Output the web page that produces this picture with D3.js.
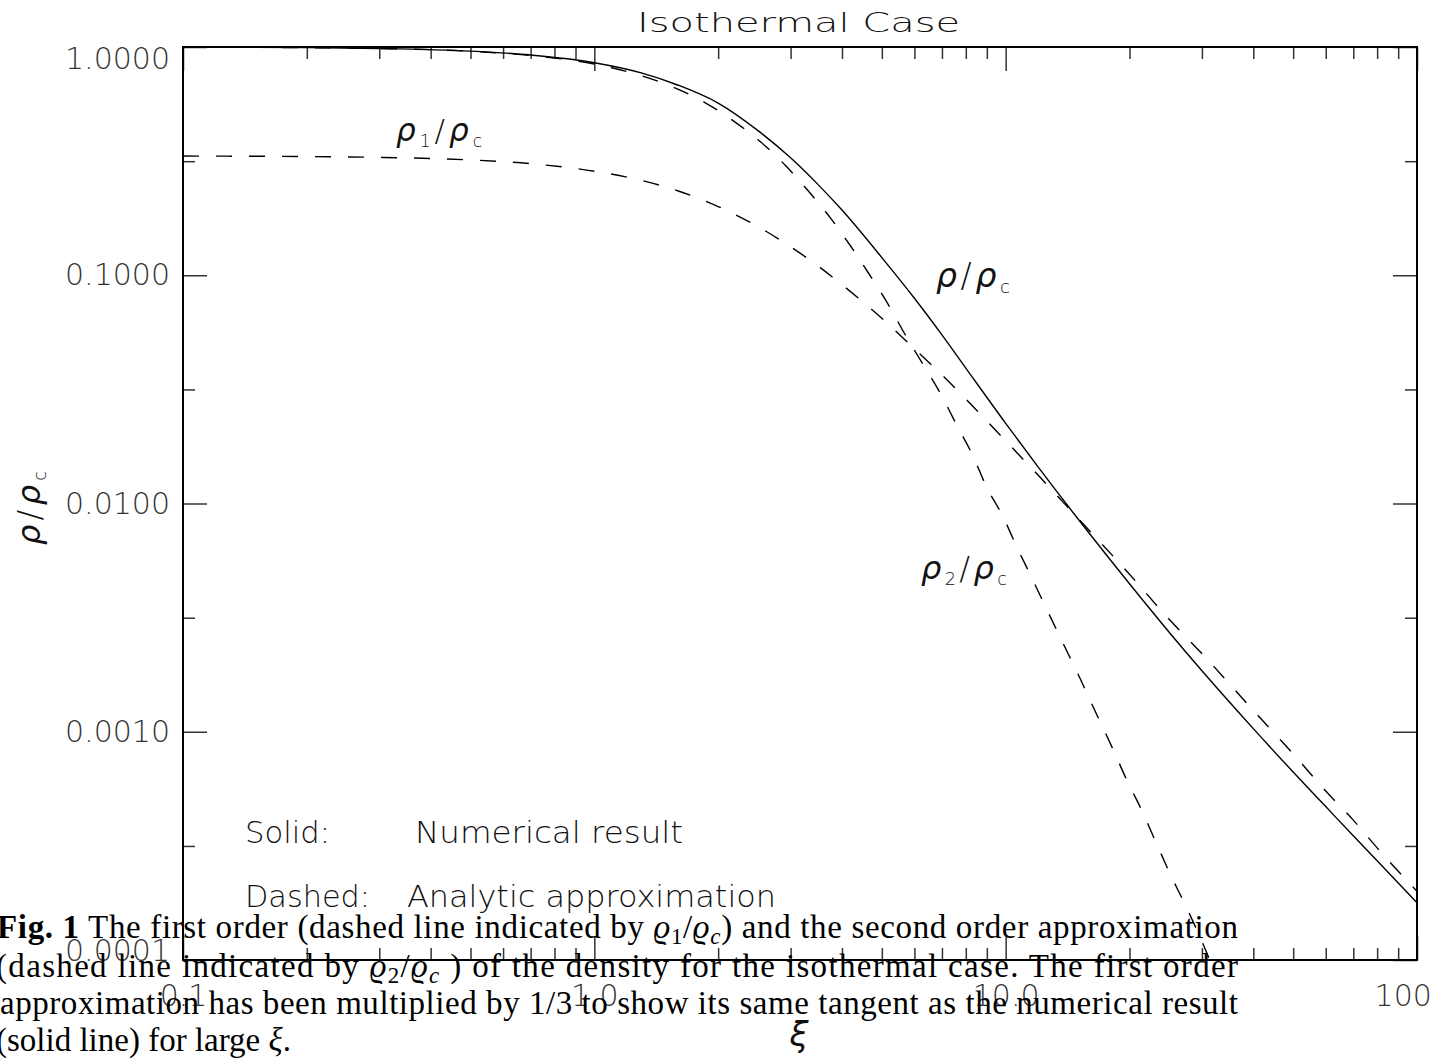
<!DOCTYPE html>
<html>
<head>
<meta charset="utf-8">
<title>Isothermal Case</title>
<style>
    body { margin: 0; background: #fff; }
    svg text { font-family: 'DejaVu Sans', sans-serif; fill: #111; }
    .axis path.domain { display: none; }
    .axis line { stroke: #333; stroke-width: 1.5px; }
    .axis .tick text { font-family: 'DejaVu Sans', sans-serif; font-size: 30px; font-weight: 200; fill: #333; }
    .frame { fill: none; stroke: #000; stroke-width: 2px; }
    .curve { fill: none; stroke: #000; stroke-width: 1.4px; }
    .dashed { stroke-dasharray: 16, 17; }
    .label { font-weight: 200; }
    .caption { font-family: 'Liberation Serif', 'DejaVu Serif', serif; fill: #000; font-size: 33px; }
</style>
</head>
<body>
<svg id="chart"></svg>

<script src="https://d3js.org/d3.v7.min.js"></script>
<script>
    // values
    const xi = [0.1, 0.2, 0.3, 0.5, 0.7, 1.0, 1.3, 1.6, 2.0, 2.5, 3.0, 3.5, 4.0, 5.0, 6.0, 7.0, 8.0,
                10, 12, 15, 20, 25, 30, 40, 50, 60, 70, 80, 100];
    const rhoNumerical = [0.9983, 0.9934, 0.9851, 0.9594, 0.9225, 0.853, 0.770, 0.680, 0.568, 0.430,
                          0.327, 0.2495, 0.193, 0.1195, 0.0793, 0.0548, 0.0392, 0.02245, 0.01444, 0.00855,
                          0.00445, 0.002723, 0.00185, 0.001032, 0.000666, 0.000470, 0.000350, 0.000272, 0.000178];
    // first order approximation, already multiplied by 1/3
    const rhoFirst = [0.3328, 0.3311, 0.3284, 0.3200, 0.3082, 0.2857, 0.2605, 0.2340, 0.2000, 0.1633,
                      0.1333, 0.1097, 0.0909, 0.0648, 0.0476, 0.0366, 0.0287, 0.0188, 0.0133, 0.0086,
                      0.0049, 0.0031, 0.0022, 0.00124, 0.00080, 0.00055, 0.00041, 0.00031, 0.00020];
    const xiSecond = [0.1, 0.2, 0.3, 0.5, 0.7, 1.0, 1.25, 1.547, 1.848, 2.186, 2.539, 2.924, 3.326,
                      3.756, 4.201, 4.677, 5.176, 5.728, 6.31, 6.95, 7.57, 8.31, 8.99, 9.83, 10.68,
                      11.61, 12.63, 13.73, 15.17, 16.72, 18.17, 19.69, 21.39, 23.12, 25.09, 27.3, 30.1, 32.5];
    const rhoSecond = [0.9983, 0.9933, 0.9850, 0.9580, 0.9180, 0.842, 0.765, 0.670, 0.574, 0.4725,
                       0.3835, 0.301, 0.232, 0.1776, 0.134, 0.100, 0.0748, 0.054, 0.0404, 0.0302,
                       0.0224, 0.0163, 0.0118, 0.00883, 0.00637, 0.00467, 0.00339, 0.00248, 0.00171,
                       0.00117, 0.00085, 0.000615, 0.000455, 0.000332, 0.000239, 0.000175, 0.000119, 0.000085];

    const xMajor = [0.1, 1, 10, 100];
    const xTickLabels = ["0.1", "1.0", "10.0", "100.0"];
    const yMajor = [0.0001, 0.001, 0.01, 0.1, 1];
    const yTickLabels = ["0.0001", "0.0010", "0.0100", "0.1000", "1.0000"];
    const yMinor = [0.000316, 0.00316, 0.0316, 0.316];

    const width = 1431, height = 1059;
    const plotLeft = 183, plotRight = 1417, plotTop = 47, plotBottom = 960;

    const svg = d3.select("#chart")
        .attr("width", width)
        .attr("height", height);

    const x = d3.scaleLog().domain([0.1, 100]).range([plotLeft, plotRight]);
    const y = d3.scaleLog().domain([0.0001, 1]).range([plotBottom, plotTop]);
    const xMinor = x.ticks().filter(d => !xMajor.some(m => Math.abs(m - d) < 1e-9));

    svg.append("defs").append("clipPath").attr("id", "plot")
        .append("rect")
        .attr("x", plotLeft).attr("y", plotTop)
        .attr("width", plotRight - plotLeft).attr("height", plotBottom - plotTop);

    // axes, ticks pointing inwards
    svg.append("g").attr("class", "axis")
        .attr("transform", `translate(0,${plotBottom})`)
        .call(d3.axisBottom(x).tickValues(xMajor).tickSize(-24).tickSizeOuter(0)
            .tickPadding(25).tickFormat((d, i) => xTickLabels[i]));
    svg.append("g").attr("class", "axis")
        .attr("transform", `translate(0,${plotBottom})`)
        .call(d3.axisBottom(x).tickValues(xMinor).tickSize(-12).tickSizeOuter(0).tickFormat(""));
    svg.append("g").attr("class", "axis")
        .attr("transform", `translate(0,${plotTop})`)
        .call(d3.axisTop(x).tickValues(xMajor).tickSize(-24).tickSizeOuter(0).tickFormat(""));
    svg.append("g").attr("class", "axis")
        .attr("transform", `translate(0,${plotTop})`)
        .call(d3.axisTop(x).tickValues(xMinor).tickSize(-12).tickSizeOuter(0).tickFormat(""));

    const yLeft = svg.append("g").attr("class", "axis")
        .attr("transform", `translate(${plotLeft},0)`)
        .call(d3.axisLeft(y).tickValues(yMajor).tickSize(-24).tickSizeOuter(0)
            .tickPadding(13).tickFormat((d, i) => yTickLabels[i]));
    // end labels are pushed inside the box
    yLeft.selectAll(".tick text")
        .attr("dy", d => d === 1 ? "0.71em" : (d === 0.0001 ? "0" : "0.32em"));
    svg.append("g").attr("class", "axis")
        .attr("transform", `translate(${plotLeft},0)`)
        .call(d3.axisLeft(y).tickValues(yMinor).tickSize(-12).tickSizeOuter(0).tickFormat(""));
    svg.append("g").attr("class", "axis")
        .attr("transform", `translate(${plotRight},0)`)
        .call(d3.axisRight(y).tickValues(yMajor).tickSize(-24).tickSizeOuter(0).tickFormat(""));
    svg.append("g").attr("class", "axis")
        .attr("transform", `translate(${plotRight},0)`)
        .call(d3.axisRight(y).tickValues(yMinor).tickSize(-12).tickSizeOuter(0).tickFormat(""));

    svg.append("rect").attr("class", "frame")
        .attr("x", plotLeft).attr("y", plotTop)
        .attr("width", plotRight - plotLeft).attr("height", plotBottom - plotTop);

    // curves
    const line = d3.line()
        .x(d => x(d[0]))
        .y(d => y(d[1]))
        .curve(d3.curveMonotoneX);

    const curves = svg.append("g").attr("clip-path", "url(#plot)");
    curves.append("path").attr("class", "curve")
        .attr("d", line(xi.map((d, i) => [d, rhoNumerical[i]])));
    curves.append("path").attr("class", "curve dashed")
        .attr("d", line(xi.map((d, i) => [d, rhoFirst[i]])));
    curves.append("path").attr("class", "curve dashed")
        .attr("d", line(xiSecond.map((d, i) => [d, rhoSecond[i]])));

    // title
    svg.append("text")
        .attr("class", "label")
        .attr("x", 637).attr("y", 32)
        .attr("font-size", 26)
        .attr("textLength", 323).attr("lengthAdjust", "spacingAndGlyphs")
        .text("Isothermal Case");

    // rho labels: big rho, small subscripts
    function rhoLabel(g, xPos, yPos, size, sub, len) {
        const t = g.append("text").attr("class", "label")
            .attr("x", xPos).attr("y", yPos)
            .attr("font-size", size)
            .attr("textLength", len).attr("lengthAdjust", "spacing");
        t.append("tspan").attr("font-style", "italic").text("ρ");
        if (sub) {
            t.append("tspan").attr("font-size", size * 0.55).attr("dy", size * 0.18).text(sub);
            t.append("tspan").attr("dy", -size * 0.18).text("/");
        } else {
            t.append("tspan").text("/");
        }
        t.append("tspan").attr("font-style", "italic").text("ρ");
        t.append("tspan").attr("font-size", size * 0.55).attr("dy", size * 0.18).text("c");
        return t;
    }
    rhoLabel(svg, 396, 141, 31, "1", 86);
    rhoLabel(svg, 936, 287, 33, null, 74);
    rhoLabel(svg, 921, 579, 32, "2", 86);

    // axis titles
    const yTitle = svg.append("g").attr("transform", "translate(40,508) rotate(-90)");
    rhoLabel(yTitle, -37, 0, 32, null, 74);
    svg.append("text").attr("class", "label")
        .attr("x", 799).attr("y", 1046)
        .attr("text-anchor", "middle")
        .attr("font-size", 34).attr("font-style", "italic")
        .text("ξ");

    // legend text
    const legend = [
        { x: 245, y: 843, text: "Solid:", len: 85 },
        { x: 415, y: 843, text: "Numerical result", len: 268 },
        { x: 245, y: 907, text: "Dashed:", len: 125 },
        { x: 407, y: 907, text: "Analytic approximation", len: 369 }
    ];
    svg.selectAll(".legend")
        .data(legend)
        .enter()
        .append("text")
        .attr("class", "label legend")
        .attr("x", d => d.x).attr("y", d => d.y)
        .attr("font-size", 30)
        .attr("textLength", d => d.len).attr("lengthAdjust", "spacingAndGlyphs")
        .text(d => d.text);

    // figure caption laid over the bottom of the plot
    const cap = svg.append("g").attr("class", "caption");
    function capLine(xPos, yPos, len, parts) {
        const t = cap.append("text").attr("class", "caption")
            .attr("x", xPos).attr("y", yPos);
        if (len) t.attr("textLength", len).attr("lengthAdjust", "spacing");
        parts.forEach(p => {
            const s = t.append("tspan").text(p.t);
            if (p.b) s.attr("font-weight", "bold");
            if (p.i) s.attr("font-style", "italic");
            if (p.sub) s.attr("font-size", 23).attr("dy", 6);
            if (p.up) s.attr("dy", -6);
        });
    }
    capLine(-3, 938, 1241, [
        { t: "Fig.  1", b: true },
        { t: " The first order (dashed line indicated by " },
        { t: "ϱ", i: true }, { t: "1", sub: true }, { t: "/", up: true },
        { t: "ϱ", i: true }, { t: "c", i: true, sub: true },
        { t: ") and the second order approximation", up: true }
    ]);
    capLine(-4, 977, 1242, [
        { t: "(dashed line indicated by " },
        { t: "ϱ", i: true }, { t: "2", sub: true }, { t: "/", up: true },
        { t: "ϱ", i: true }, { t: "c", i: true, sub: true },
        { t: " ) of the density for the isothermal case.  The first order", up: true }
    ]);
    capLine(0, 1014, 1238, [
        { t: "approximation has been multiplied by 1/3 to show its same tangent as the numerical result" }
    ]);
    capLine(-4, 1051, null, [
        { t: "(solid line) for large " }, { t: "ξ", i: true }, { t: "." }
    ]);
</script>
</body>
</html>
